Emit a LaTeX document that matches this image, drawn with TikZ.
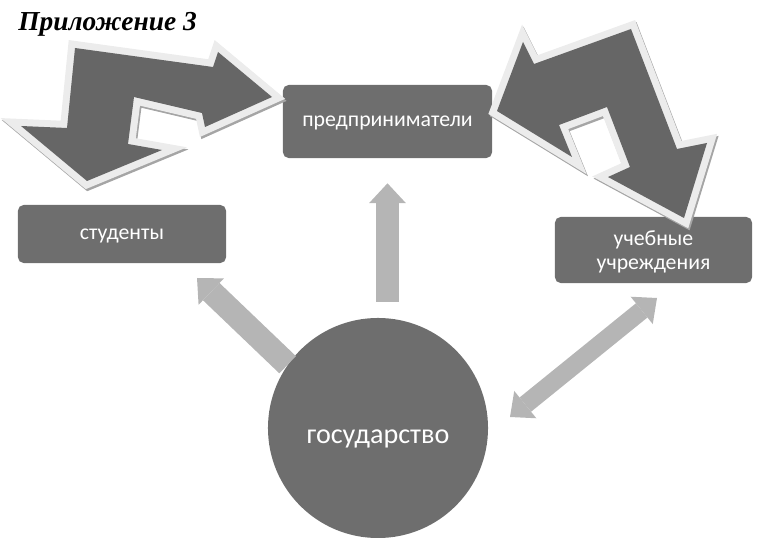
\documentclass[tikz,border=0pt]{standalone}
\usepackage{fontspec}
\setmainfont{Liberation Serif}
\newfontfamily\boxfont{Carlito}
\usetikzlibrary{arrows.meta, positioning}
\definecolor{boxgray}{RGB}{110,110,110}
\definecolor{arrowdark}{RGB}{102,102,102}
\definecolor{rimgray}{RGB}{236,236,236}
\definecolor{shadegray}{RGB}{165,165,165}
\definecolor{lightarrow}{RGB}{181,181,181}
\tikzstyle{gbox}=[rectangle, rounded corners=4pt, fill=boxgray, text=white,
  font=\boxfont\fontsize{15.5}{17.5}\selectfont, align=center, inner sep=0pt,
  text depth=0pt]
\tikzstyle{garr}=[-{Triangle[width=26pt, length=14pt, line width=0pt]},
  line width=17pt, draw=lightarrow]
\tikzstyle{bigarr}=[fill=arrowdark, line join=miter,
  preaction={draw=shadegray, line width=10pt, line join=miter,
    transform canvas={shift={(1pt,-1.5pt)}}},
  preaction={draw=rimgray, line width=10pt, line join=miter}]

\begin{document}
\begin{tikzpicture}[x=0.025cm, y=-0.025cm]
  \useasboundingbox (0,0) rectangle (758,538);
  \node[anchor=base west, inner sep=0pt,
    font=\bfseries\itshape\fontsize{19.5}{22}\selectfont]
    (title) at (18,31) {Приложение 3};
  % boxes
  \node[gbox, minimum width=5.225cm, minimum height=1.825cm] (pred) at (387.5,121.5)
    {предприниматели};
  \node[gbox, minimum width=5.2cm, minimum height=1.45cm] (stud) at (122,234)
    {студенты};
  \node[gbox, minimum width=4.925cm, minimum height=1.65cm] (uch) at (653.5,250)
    {учебные\\учреждения};
  \node[circle, fill=boxgray, minimum size=5.5cm, inner sep=0pt, text=white,
    text height=22pt, text depth=0pt,
    font=\boxfont\fontsize{20}{24}\selectfont] (gos) at (378,428) {государство};
  % light arrows
  \coordinate (studtip) at (197,278);
  \coordinate (uchtip) at (657,298);
  \coordinate (gostip) at (510,417);
  \draw[garr, shorten <=11.4pt, shorten >=17.8pt] (pred.south |- gos.north) -- (pred.south);
  \draw[garr] (gos.145) -- (studtip);
  \draw[garr, {Triangle[width=25pt, length=14pt, line width=0pt]}-{Triangle[width=25pt, length=14pt, line width=0pt]},
    line width=13pt] (gostip) -- (uchtip);
  % big bent arrows
  \path[bigarr] (75,48) -- (213,67) -- (218,52) -- (272,97) -- (205,127)
    -- (202,113) -- (134,97) -- (128,144) -- (162,150) -- (87,181)
    -- (21,126) -- (67,128) -- cycle;
  \path[bigarr] (497,111) -- (523,42) -- (534,64) -- (631,29) -- (677,149)
    -- (707,143) -- (684,218) -- (608,177) -- (630,167) -- (607,107)
    -- (559,125) -- (572,157) -- cycle;
\end{tikzpicture}
\end{document}
